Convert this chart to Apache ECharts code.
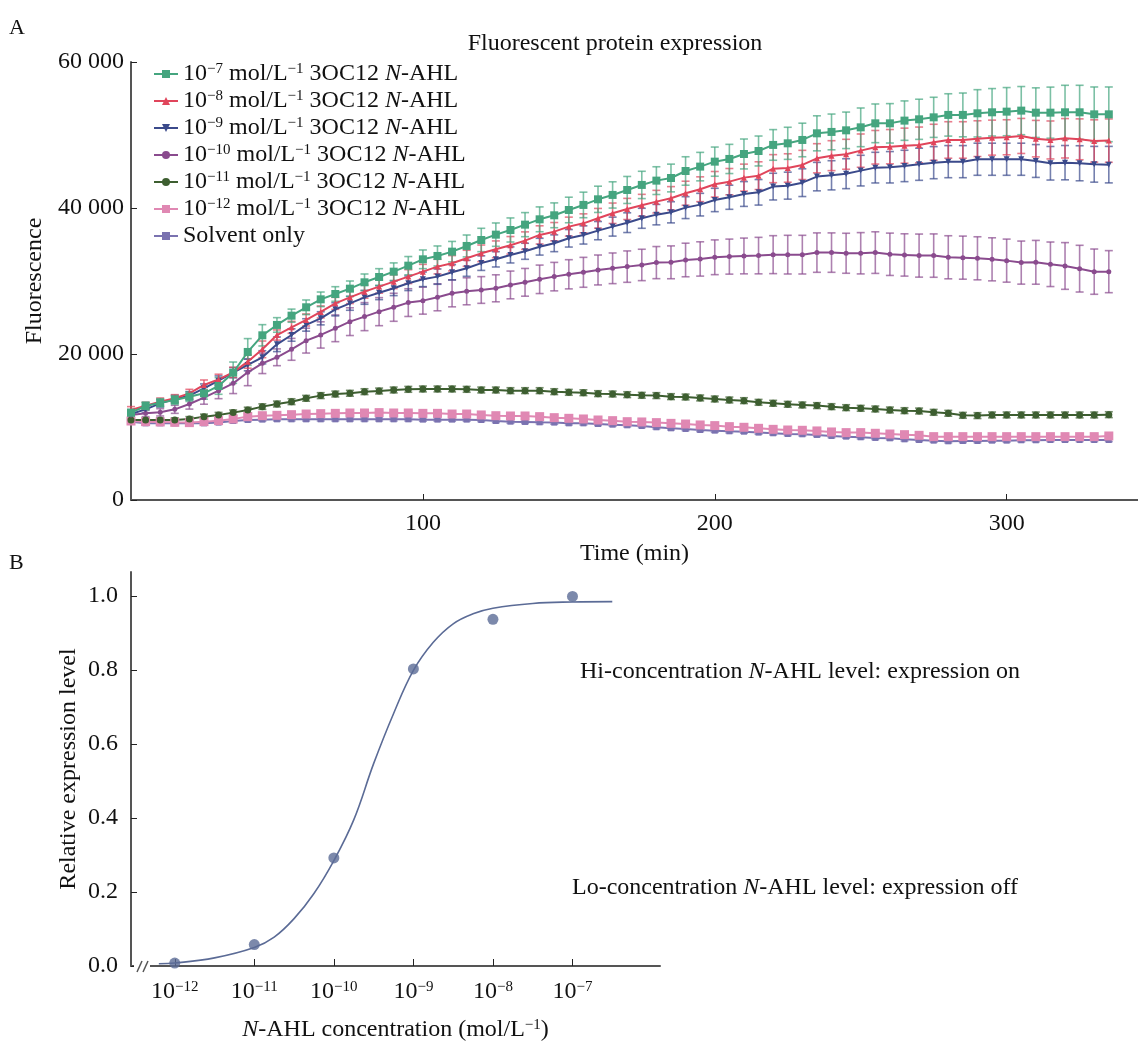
<!DOCTYPE html>
<html><head><meta charset="utf-8">
<script src="https://cdn.jsdelivr.net/npm/echarts@6/dist/echarts.min.js"></script>
<style>html,body{margin:0;padding:0;background:#fff}#c{width:1138px;height:1046px}</style>
</head><body><div id="c"></div>
<script>
// ---------- Panel A data ----------
const times = [0,5,10,15,20,25,30,35,40,45,50,55,60,65,70,75,80,85,90,95,100,105,110,115,120,125,130,135,140,145,150,155,160,165,170,175,180,185,190,195,200,205,210,215,220,225,230,235,240,245,250,255,260,265,270,275,280,285,290,295,300,305,310,315,320,325,330,335];
const seriesNames = ['c7','c8','c9','c10','c11','c12','solvent'];
const green = [11960,12880,13330,13700,14150,14610,15620,17440,20280,22560,23980,25250,26400,27490,28220,28950,29820,30550,31280,32100,32970,33430,34020,34800,35620,36350,36990,37720,38450,39000,39730,40420,41190,41790,42470,43160,43750,44110,45070,45670,46350,46720,47400,47810,48640,48860,49320,50230,50420,50640,51050,51600,51600,51970,52150,52420,52750,52750,52970,53110,53200,53340,53060,53060,53110,53110,52830,52830];
const greenErr = [450,550,550,600,650,800,1140,1460,1830,1460,1000,900,1000,1000,1000,1050,1140,1140,1200,1250,1280,1370,1400,1500,1600,1600,1650,1650,1700,1700,1750,1750,1800,1800,1850,1870,1900,1900,1950,1950,2000,2000,2050,2050,2100,2200,2300,2400,2450,2500,2650,2650,2700,2700,2750,2750,2900,3000,3240,3250,3300,3300,3400,3500,3700,3700,3750,3750];
const red = [12330,12920,13470,13930,14610,15760,16530,17490,18950,20640,22600,23650,24660,25760,26940,27760,28540,29230,29910,30600,31280,31970,32430,33110,33790,34340,34890,35530,36310,36760,37450,37900,38590,39280,39870,40370,40870,41330,42020,42570,43250,43610,44160,44430,45390,45480,45900,46810,47170,47360,47860,48320,48400,48540,48640,49000,49320,49320,49500,49640,49690,49870,49500,49320,49550,49410,49180,49230];
const redErr = [460,460,500,500,550,680,700,700,900,1140,700,820,820,820,820,850,900,900,950,950,1000,1000,1050,1100,1140,1150,1200,1200,1250,1250,1300,1300,1350,1400,1450,1500,1550,1600,1650,1700,1750,1800,1850,1900,1920,1950,2000,2000,2050,2050,2280,2300,2350,2400,2450,2470,2500,2500,2450,2400,2400,2400,2500,2600,2700,2800,2900,2970];
const blue = [11780,12420,13240,13840,14290,15300,16350,17440,18500,19550,21330,22600,23980,24890,26120,26940,27760,28400,29000,29690,30230,30600,31190,31740,32450,32970,33570,34070,34700,35170,35850,36310,36900,37450,37990,38590,39090,39410,40050,40460,41100,41470,41920,42150,42930,43060,43470,44300,44480,44700,45120,45530,45580,45760,45990,46210,46350,46350,46680,46680,46680,46680,46440,46130,46210,46130,45990,45940];
const blueErr = [450,450,500,500,550,600,650,700,800,900,1000,850,850,900,900,950,950,950,1000,1000,1000,1050,1050,1100,1000,1050,1100,1100,1150,1150,1200,1250,1250,1300,1350,1370,1400,1450,1500,1550,1600,1650,1700,1750,1830,1850,1900,1950,2000,2050,2100,2100,2150,2150,2200,2200,2200,2200,2200,2200,2200,2200,2250,2300,2350,2400,2450,2500];
const purple = [11650,11870,12010,12420,13150,14020,14980,15980,17490,18720,19550,20640,21830,22610,23520,24430,25120,25800,26400,27040,27310,27770,28310,28590,28770,29000,29460,29820,30230,30600,30920,31190,31510,31740,31970,32200,32520,32560,32880,33020,33250,33340,33430,33480,33610,33610,33610,33890,33890,33800,33800,33890,33660,33570,33480,33480,33250,33200,33110,32970,32790,32520,32560,32290,32060,31690,31280,31280];
const purpleErr = [450,450,500,550,700,900,1100,1400,1830,1400,1150,1500,1700,1800,1830,1900,1920,1920,1920,1900,1850,1850,1850,1850,1830,1850,1900,1900,1950,1950,2000,2050,2050,2100,2150,2150,2200,2250,2300,2350,2380,2400,2450,2500,2600,2650,2650,2700,2700,2740,2830,2850,2900,2900,2950,2970,2950,2950,2950,2950,2950,2950,3000,3050,3200,3200,3100,2880];
const darkGreen = [10960,10960,10960,10960,11100,11420,11650,11970,12330,12790,13150,13470,13930,14300,14520,14620,14840,14930,15070,15160,15210,15210,15210,15160,15070,15070,14980,14980,14980,14840,14750,14700,14570,14520,14430,14340,14300,14160,14110,13980,13840,13700,13610,13380,13250,13110,13020,12930,12790,12650,12560,12470,12330,12240,12190,12010,11880,11600,11560,11650,11650,11650,11650,11650,11650,11650,11650,11690];
const darkGreenErr = [300,300,300,300,320,340,350,360,380,380,400,400,400,400,400,400,400,400,400,400,400,400,400,400,400,400,400,400,400,400,400,400,400,400,400,400,400,400,400,400,400,400,400,400,400,400,400,400,400,400,400,400,400,400,400,400,400,400,400,400,400,400,400,400,400,400,400,400];
const pink = [10820,10730,10690,10640,10600,10730,10870,11100,11420,11550,11600,11690,11780,11830,11870,11920,11920,11970,11920,11920,11870,11870,11780,11780,11650,11550,11510,11510,11420,11280,11190,11100,10960,10870,10730,10690,10600,10500,10410,10280,10190,10050,9960,9820,9680,9590,9550,9460,9320,9230,9230,9140,9040,8950,8860,8680,8680,8680,8680,8680,8680,8680,8680,8680,8680,8680,8680,8770];
const pinkErr = [240,240,240,240,240,240,250,250,250,250,250,250,250,250,250,250,250,250,250,250,250,250,250,250,250,250,250,250,250,250,250,250,250,250,250,250,250,250,250,250,250,250,250,250,250,250,250,250,250,250,250,250,250,250,250,250,250,250,250,250,250,250,250,250,250,250,250,250];
const solvent = [10730,10500,10500,10500,10500,10500,10600,10820,10960,11010,11050,11050,11050,11050,11050,11050,11050,11050,11050,11050,11010,11010,11010,11010,10960,10820,10730,10690,10640,10600,10500,10500,10410,10320,10230,10140,9960,9820,9730,9590,9500,9410,9360,9230,9140,9040,9000,8910,8770,8680,8590,8500,8450,8310,8220,8130,8040,8080,8080,8130,8130,8180,8180,8220,8220,8220,8220,8220];
const solventErr = [220,220,220,220,220,220,220,220,220,220,220,220,220,220,220,220,220,220,220,220,220,220,220,220,220,220,220,220,220,220,220,220,220,220,220,220,220,220,220,220,220,220,220,220,220,220,220,220,220,220,220,220,220,220,220,220,220,220,220,220,220,220,220,220,220,220,220,220];
const fluorTicks = [0,20000,40000,60000];
const timeTicks = [100,200,300];

// ---------- Panel B data ----------
const concLog = [-12,-11,-10,-9,-8,-7];
const relExpr = [0.008,0.058,0.292,0.803,0.937,0.999];
const fitX = [-12.2,-12.0,-11.5,-11.0,-10.75,-10.5,-10.25,-10.0,-9.75,-9.5,-9.25,-9.0,-8.75,-8.5,-8.25,-8.0,-7.5,-7.0,-6.5];
const fitY = [0.006,0.008,0.022,0.05,0.078,0.128,0.196,0.285,0.395,0.547,0.682,0.799,0.875,0.925,0.952,0.967,0.980,0.984,0.985];
const relTicks = [0,0.2,0.4,0.6,0.8,1.0];

// ---------- styling ----------
const FF = '"Liberation Serif","Times New Roman",serif';
const FS = 24;
const TXT = '#111';
const AX = '#555';
const rich = {
  sup: {fontFamily: FF, fontSize: 15, verticalAlign: 'top', color: TXT},
  it: {fontFamily: FF, fontSize: FS, fontStyle: 'italic', color: TXT},
  t: {fontFamily: FF, fontSize: FS, color: TXT}
};
const legendLabels = {
  c7: '10{sup|−7} mol/L{sup|−1} 3OC12 {it|N}-AHL',
  c8: '10{sup|−8} mol/L{sup|−1} 3OC12 {it|N}-AHL',
  c9: '10{sup|−9} mol/L{sup|−1} 3OC12 {it|N}-AHL',
  c10: '10{sup|−10} mol/L{sup|−1} 3OC12 {it|N}-AHL',
  c11: '10{sup|−11} mol/L{sup|−1} 3OC12 {it|N}-AHL',
  c12: '10{sup|−12} mol/L{sup|−1} 3OC12 {it|N}-AHL',
  solvent: 'Solvent only'
};
const cfg = {
  c7: {data: green, err: greenErr, color: '#45a57f', symbol: 'rect', size: 8, rot: 0},
  c8: {data: red, err: redErr, color: '#e0455b', symbol: 'triangle', size: 6, rot: 0},
  c9: {data: blue, err: blueErr, color: '#3b4a8b', symbol: 'triangle', size: 6, rot: 180},
  c10: {data: purple, err: purpleErr, color: '#8a4b8e', symbol: 'circle', size: 5, rot: 0},
  c11: {data: darkGreen, err: darkGreenErr, color: '#3d5e30', symbol: 'circle', size: 7, rot: 0},
  c12: {data: pink, err: pinkErr, color: '#e088b3', symbol: 'rect', size: 9, rot: 0},
  solvent: {data: solvent, err: solventErr, color: '#7a72b0', symbol: 'rect', size: 6, rot: 0}
};

function errSeries(key) {
  const c = cfg[key];
  return {
    type: 'custom', name: key + '_err', xAxisIndex: 0, yAxisIndex: 0, silent: true, z: 2,
    data: times.map((t, i) => [t, c.data[i] - c.err[i], c.data[i] + c.err[i]]),
    encode: {x: 0, y: [1, 2]},
    renderItem: function (params, api) {
      const x = api.value(0), lo = api.value(1), hi = api.value(2);
      const a = api.coord([x, hi]), b = api.coord([x, lo]);
      const w = 4;
      const st = {stroke: c.color, lineWidth: 1.6, opacity: 0.7};
      return {type: 'group', children: [
        {type: 'line', shape: {x1: a[0], y1: a[1], x2: b[0], y2: b[1]}, style: st},
        {type: 'line', shape: {x1: a[0] - w, y1: a[1], x2: a[0] + w, y2: a[1]}, style: st},
        {type: 'line', shape: {x1: b[0] - w, y1: b[1], x2: b[0] + w, y2: b[1]}, style: st}
      ]};
    }
  };
}
function lineSeries(key) {
  const c = cfg[key];
  return {
    type: 'line', name: key, xAxisIndex: 0, yAxisIndex: 0, z: 3,
    data: times.map((t, i) => [t, c.data[i]]),
    symbol: c.symbol, symbolSize: c.size, symbolRotate: c.rot, showAllSymbol: true,
    lineStyle: {color: c.color, width: 2}, itemStyle: {color: c.color},
    emphasis: {disabled: true}
  };
}
const drawOrder = ['solvent', 'c12', 'c11', 'c10', 'c9', 'c8', 'c7'];
const series = [];
drawOrder.forEach(k => series.push(errSeries(k)));
drawOrder.forEach(k => series.push(lineSeries(k)));

series.push({
  type: 'line', name: 'fit', xAxisIndex: 1, yAxisIndex: 1, z: 3,
  data: fitX.map((x, i) => [x, fitY[i]]), smooth: 0.4,
  symbol: 'none', lineStyle: {color: '#5b6b96', width: 1.6}
});
series.push({
  type: 'scatter', name: 'points', xAxisIndex: 1, yAxisIndex: 1, z: 4,
  data: concLog.map((x, i) => [x, relExpr[i]]),
  symbol: 'circle', symbolSize: 11, itemStyle: {color: '#5b6b96'}
});

const axisLabelBase = {fontFamily: FF, fontSize: FS, color: TXT};
const option = {
  animation: false,
  backgroundColor: '#fff',
  grid: [
    {left: 131, right: 0, top: 62, bottom: 546, containLabel: false},
    {left: 131, right: 478, top: 572, bottom: 80, containLabel: false}
  ],
  legend: {
    data: seriesNames, orient: 'vertical', left: 148, top: 57,
    itemWidth: 24, itemHeight: 10, itemGap: 3, selectedMode: false,
    formatter: name => legendLabels[name],
    textStyle: {fontFamily: FF, fontSize: FS, color: TXT, rich: rich}
  },
  xAxis: [
    {
      type: 'value', gridIndex: 0, min: 0, max: 345,
      name: 'Time (min)', nameLocation: 'middle', nameGap: 42,
      nameTextStyle: {fontFamily: FF, fontSize: FS, color: TXT},
      axisLine: {lineStyle: {color: AX, width: 2}},
      axisTick: {inside: true, length: 6, customValues: timeTicks, lineStyle: {color: '#222'}},
      axisLabel: Object.assign({customValues: timeTicks, margin: 12}, axisLabelBase),
      splitLine: {show: false}
    },
    {
      type: 'value', gridIndex: 1, min: -12.55, max: -5.9,
      name: '{it|N}-AHL concentration (mol/L{sup|−1})', nameLocation: 'middle', nameGap: 52,
      nameTextStyle: {fontFamily: FF, fontSize: FS, color: TXT, rich: rich},
      axisLine: {lineStyle: {color: AX, width: 2}},
      axisTick: {inside: true, length: 7, customValues: concLog, lineStyle: {color: '#222'}},
      axisLabel: Object.assign({customValues: concLog, margin: 14, rich: rich,
        formatter: v => '10{sup|−' + Math.abs(Math.round(v)) + '}'}, axisLabelBase),
      splitLine: {show: false}
    }
  ],
  yAxis: [
    {
      type: 'value', gridIndex: 0, min: 0, max: 60000, interval: 20000,
      name: 'Fluorescence', nameLocation: 'middle', nameGap: 73, nameRotate: 90,
      nameTextStyle: {fontFamily: FF, fontSize: FS, color: TXT},
      axisLine: {show: true, lineStyle: {color: AX, width: 2}},
      axisTick: {show: true, inside: true, length: 6, lineStyle: {color: '#222'}},
      axisLabel: Object.assign({margin: 7, formatter: v => v === 0 ? '0' : (v / 1000) + ' 000'}, axisLabelBase),
      splitLine: {show: false}
    },
    {
      type: 'value', gridIndex: 1, min: 0, max: 1.065,
      name: 'Relative expression level', nameLocation: 'middle', nameGap: 50, nameRotate: 90,
      nameTextStyle: {fontFamily: FF, fontSize: FS, color: TXT},
      axisLine: {show: true, lineStyle: {color: AX, width: 2}},
      axisTick: {show: true, inside: true, length: 6, customValues: relTicks, lineStyle: {color: '#222'}},
      axisLabel: Object.assign({customValues: relTicks, margin: 13, formatter: v => v.toFixed(1)}, axisLabelBase),
      splitLine: {show: false}
    }
  ],
  graphic: [
    {type: 'text', x: 9, y: 28, style: {text: 'A', font: '22px ' + FF, fill: TXT, verticalAlign: 'middle'}},
    {type: 'text', x: 9, y: 563, style: {text: 'B', font: '22px ' + FF, fill: TXT, verticalAlign: 'middle'}},
    {type: 'text', x: 615, y: 44, style: {text: 'Fluorescent protein expression', font: FS + 'px ' + FF, fill: TXT, align: 'center', verticalAlign: 'middle'}},
    {type: 'text', x: 580, y: 672, style: {text: 'Hi-concentration {it|N}-AHL level: expression on', font: FS + 'px ' + FF, fill: TXT, rich: rich, verticalAlign: 'middle'}},
    {type: 'text', x: 572, y: 888, style: {text: 'Lo-concentration {it|N}-AHL level: expression off', font: FS + 'px ' + FF, fill: TXT, rich: rich, verticalAlign: 'middle'}},
    {type: 'rect', shape: {x: 134, y: 961, width: 16, height: 10}, style: {fill: '#fff'}, z: 100},
    {type: 'line', shape: {x1: 137, y1: 972, x2: 142, y2: 961}, style: {stroke: AX, lineWidth: 1.5}, z: 101},
    {type: 'line', shape: {x1: 143, y1: 972, x2: 148, y2: 961}, style: {stroke: AX, lineWidth: 1.5}, z: 101}
  ],
  series: series
};
const chart = echarts.init(document.getElementById('c'));
chart.setOption(option);
</script></body></html>
